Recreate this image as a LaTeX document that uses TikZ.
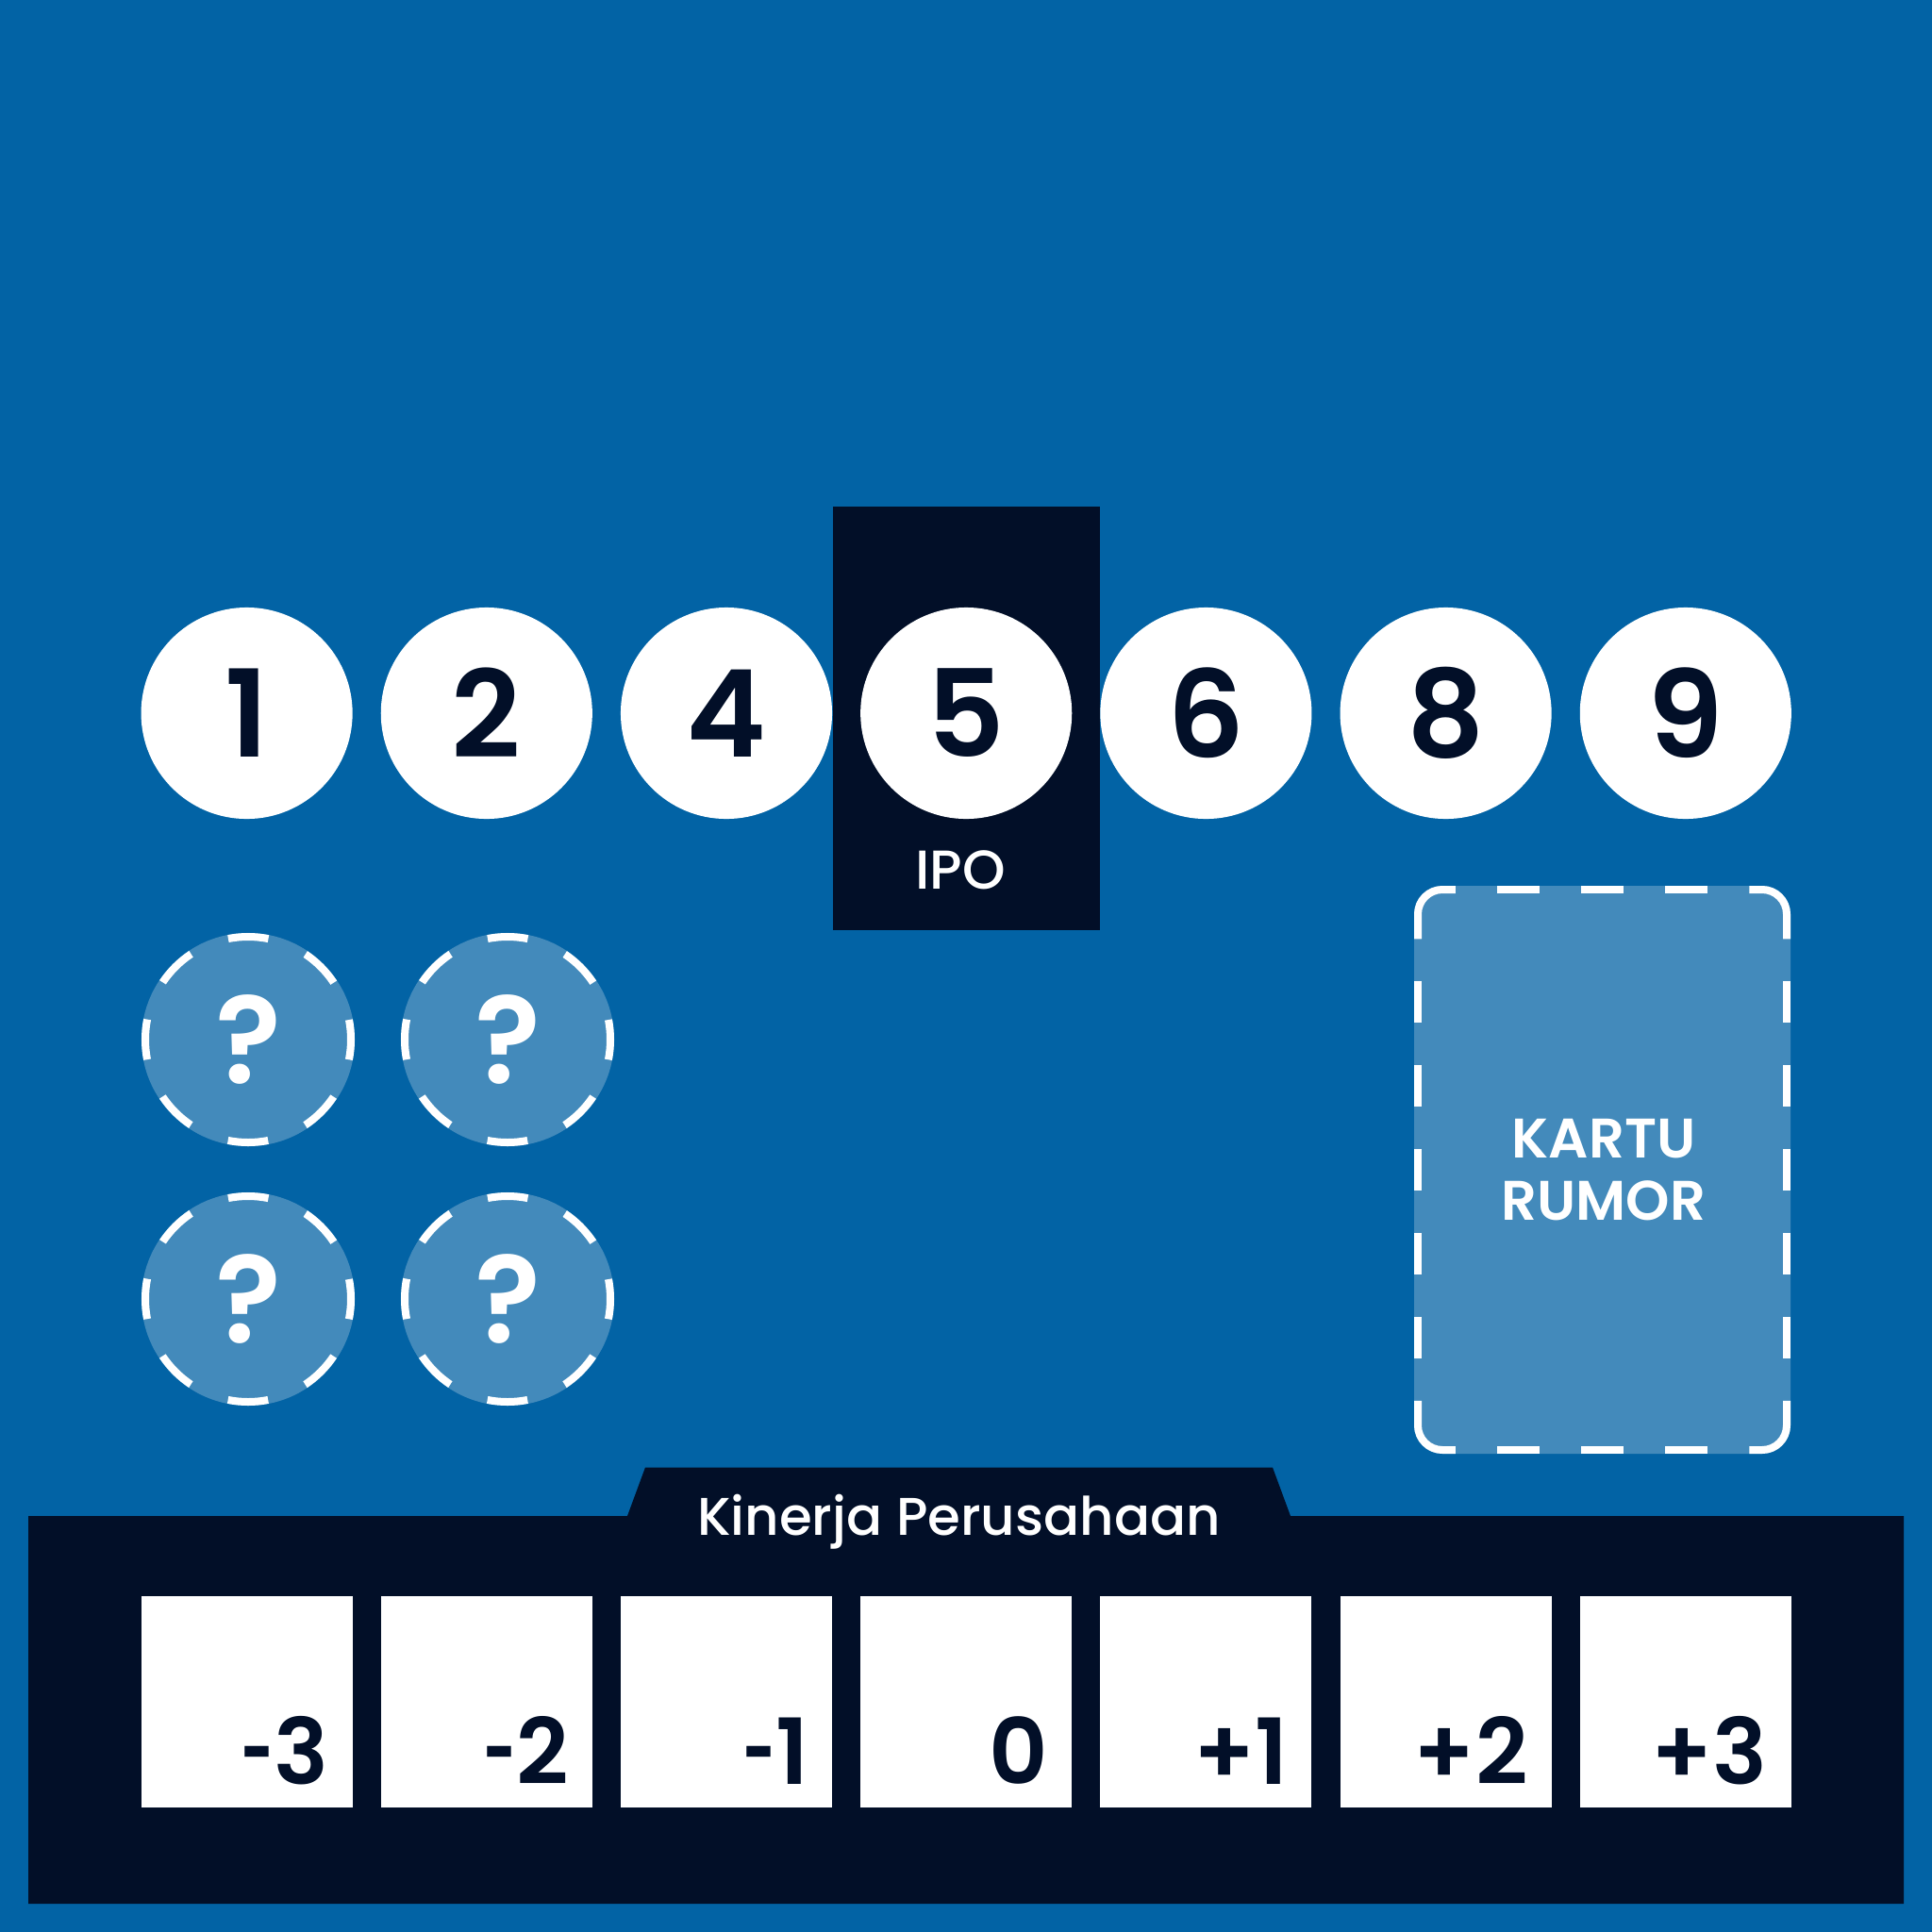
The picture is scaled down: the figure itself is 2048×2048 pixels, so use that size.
\documentclass[tikz,border=0pt]{standalone}
\usepackage{fontspec}
\setmainfont{Poppins}
\newfontfamily\popmed{Poppins Medium}
\newfontfamily\popbold{Poppins SemiBold}
\definecolor{bgblue}{RGB}{2,99,165}
\definecolor{lightblue}{RGB}{67,138,187}
\definecolor{navy}{RGB}{2,15,40}
\newcommand{\shorthy}{\scalebox{0.62}[1]{-}}
\begin{document}
\begin{tikzpicture}[x=0.01cm,y=-0.01cm,
  numcirc/.style={circle,fill=white,minimum size=2.24cm,inner sep=0pt,text=navy,font=\popbold\fontsize{36.5}{40}\selectfont},
  qcirc/.style={circle,fill=lightblue,minimum size=2.26cm,inner sep=0pt,text=white,font=\popbold\fontsize{37}{40}\selectfont},
  qdash/.style={white,line width=0.08cm,dash pattern=on 0.428cm off 0.428cm,dash phase=0.214cm},
  rdash/.style={white,line width=0.08cm},
  sqbox/.style={rectangle,fill=white,minimum size=2.24cm,inner sep=0pt},
  sqlabel/.style={anchor=base east,text=navy,inner sep=0pt,font=\popbold\fontsize{27.5}{30}\selectfont},
  whitetext/.style={text=white,inner sep=0pt}]
% background
\fill[bgblue] (0,0) rectangle (2048,2048);
\useasboundingbox (0,0) rectangle (2048,2048);
% IPO dark panel
\fill[navy] (882.6,537) rectangle (1166.4,985.5);
\node[whitetext,anchor=base,font=\popmed\fontsize{16.5}{18}\selectfont] (ipo) at (1018,942) {IPO};
% number circles
\foreach \n/\lab in {0/1,1/2,2/4,3/5,4/6,5/8,6/9}{
  \node[numcirc] (c\lab) at ({261.6+254.2*\n},756) {\lab};
}
% question circles
\foreach \nm/\x/\y in {q1/263/1102,q2/538/1102,q3/263/1377,q4/538/1377}{
  \node[qcirc] (\nm) at (\x,\y) {?};
  \draw[qdash] (\nm.center) circle (109);
}
% Kartu rumor card
\fill[lightblue,rounded corners=0.30cm] (1499,939) rectangle (1898,1541);
\node[whitetext,align=center,font=\popbold\fontsize{16.8}{19}\selectfont] (rumor) at (1700,1240) {KARTU\\RUMOR};
% corner pieces
\draw[rdash,rounded corners=0.26cm] (1542.75,943) -- (1503,943) -- (1503,995.25);
\draw[rdash,rounded corners=0.26cm] (1854.25,943) -- (1894,943) -- (1894,995.25);
\draw[rdash,rounded corners=0.26cm] (1542.75,1537) -- (1503,1537) -- (1503,1484.75);
\draw[rdash,rounded corners=0.26cm] (1854.25,1537) -- (1894,1537) -- (1894,1484.75);
\foreach \c in {1609.5,1698.5,1787.5}{
  \draw[rdash] (\c-22.25,943) -- (\c+22.25,943);
  \draw[rdash] (\c-22.25,1537) -- (\c+22.25,1537);
}
\foreach \c in {1062,1151,1240,1329,1418}{
  \draw[rdash] (1503,\c-22.25) -- (1503,\c+22.25);
  \draw[rdash] (1894,\c-22.25) -- (1894,\c+22.25);
}
% bottom panel with tab
\fill[navy] (30,1607) -- (665,1607) -- (684,1555.5) -- (1349,1555.5) -- (1368,1607) -- (2018,1607) -- (2018,2018) -- (30,2018) -- cycle;
\node[whitetext,anchor=base,font=\popmed\fontsize{16}{18}\selectfont] (kinerja) at (1016.5,1627.5) {Kinerja Perusahaan};
% score squares
\foreach \n/\lab in {0/\shorthy 3,1/\shorthy 2,2/\shorthy 1,3/0,4/+1,5/+2,6/+3}{
  \node[sqbox] (s\n) at ({261.6+254.2*\n},1804) {};
  \node[sqlabel] (l\n) at ([xshift=-0.25cm]s\n.east |- 0,1891) {\lab};
}
\end{tikzpicture}
\end{document}
